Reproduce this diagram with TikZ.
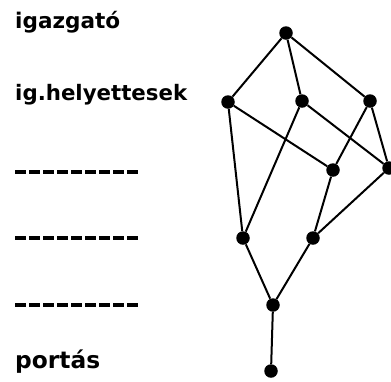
\documentclass[tikz,border=0pt]{standalone}
\usepackage{graphicx}
\usepackage{fontspec}
\setmainfont{DejaVu Sans}
\begin{document}
\begin{tikzpicture}[x=1pt,y=-1pt,
 dot/.style={circle,fill=black,inner sep=0pt,minimum size=13.5pt},
 edge/.style={line width=2pt},
 lbl/.style={anchor=base west,inner sep=0pt,font=\fontsize{22}{22}\selectfont\bfseries},
 level/.style={line width=3.5pt,dash pattern=on 11pt off 3pt}]
\useasboundingbox[fill=white] (0,0) rectangle (391,381);
% labels
\node[lbl] (igazgato) at (15,28) {\resizebox{105pt}{!}{igazgató}};
\node[lbl] (helyettes) at (15,100) {\resizebox{172pt}{!}{ig.helyettesek}};
\node[lbl] (portas) at (15,368) {\resizebox{85pt}{!}{portás}};
% dashed level lines
\coordinate (d1a) at (15,172); \coordinate (d1b) at (138,172);
\coordinate (d2a) at (15,238); \coordinate (d2b) at (138,238);
\coordinate (d3a) at (15,305); \coordinate (d3b) at (138,305);
\draw[level] (d1a) -- (d1b);
\draw[level] (d2a) -- (d2b);
\draw[level] (d3a) -- (d3b);
% graph nodes
\node[dot] (T)  at (286,33) {};
\node[dot] (L1) at (228,102) {};
\node[dot] (M1) at (302,101) {};
\node[dot] (R1) at (370,101) {};
\node[dot] (C2) at (333,170) {};
\node[dot] (R2) at (389,168) {};
\node[dot] (A3) at (243,238) {};
\node[dot] (B3) at (313,238) {};
\node[dot] (P)  at (273,305) {};
\node[dot] (Bot) at (271,371) {};
% edges
\draw[edge] (T) -- (L1);
\draw[edge] (T) -- (M1);
\draw[edge] (T) -- (R1);
\draw[edge] (L1) -- (C2);
\draw[edge] (L1) -- (A3);
\draw[edge] (M1) -- (A3);
\draw[edge] (M1) -- (R2);
\draw[edge] (R1) -- (C2);
\draw[edge] (R1) -- (R2);
\draw[edge] (C2) -- (B3);
\draw[edge] (R2) -- (B3);
\draw[edge] (A3) -- (P);
\draw[edge] (B3) -- (P);
\draw[edge] (P) -- (Bot);
\end{tikzpicture}
\end{document}
